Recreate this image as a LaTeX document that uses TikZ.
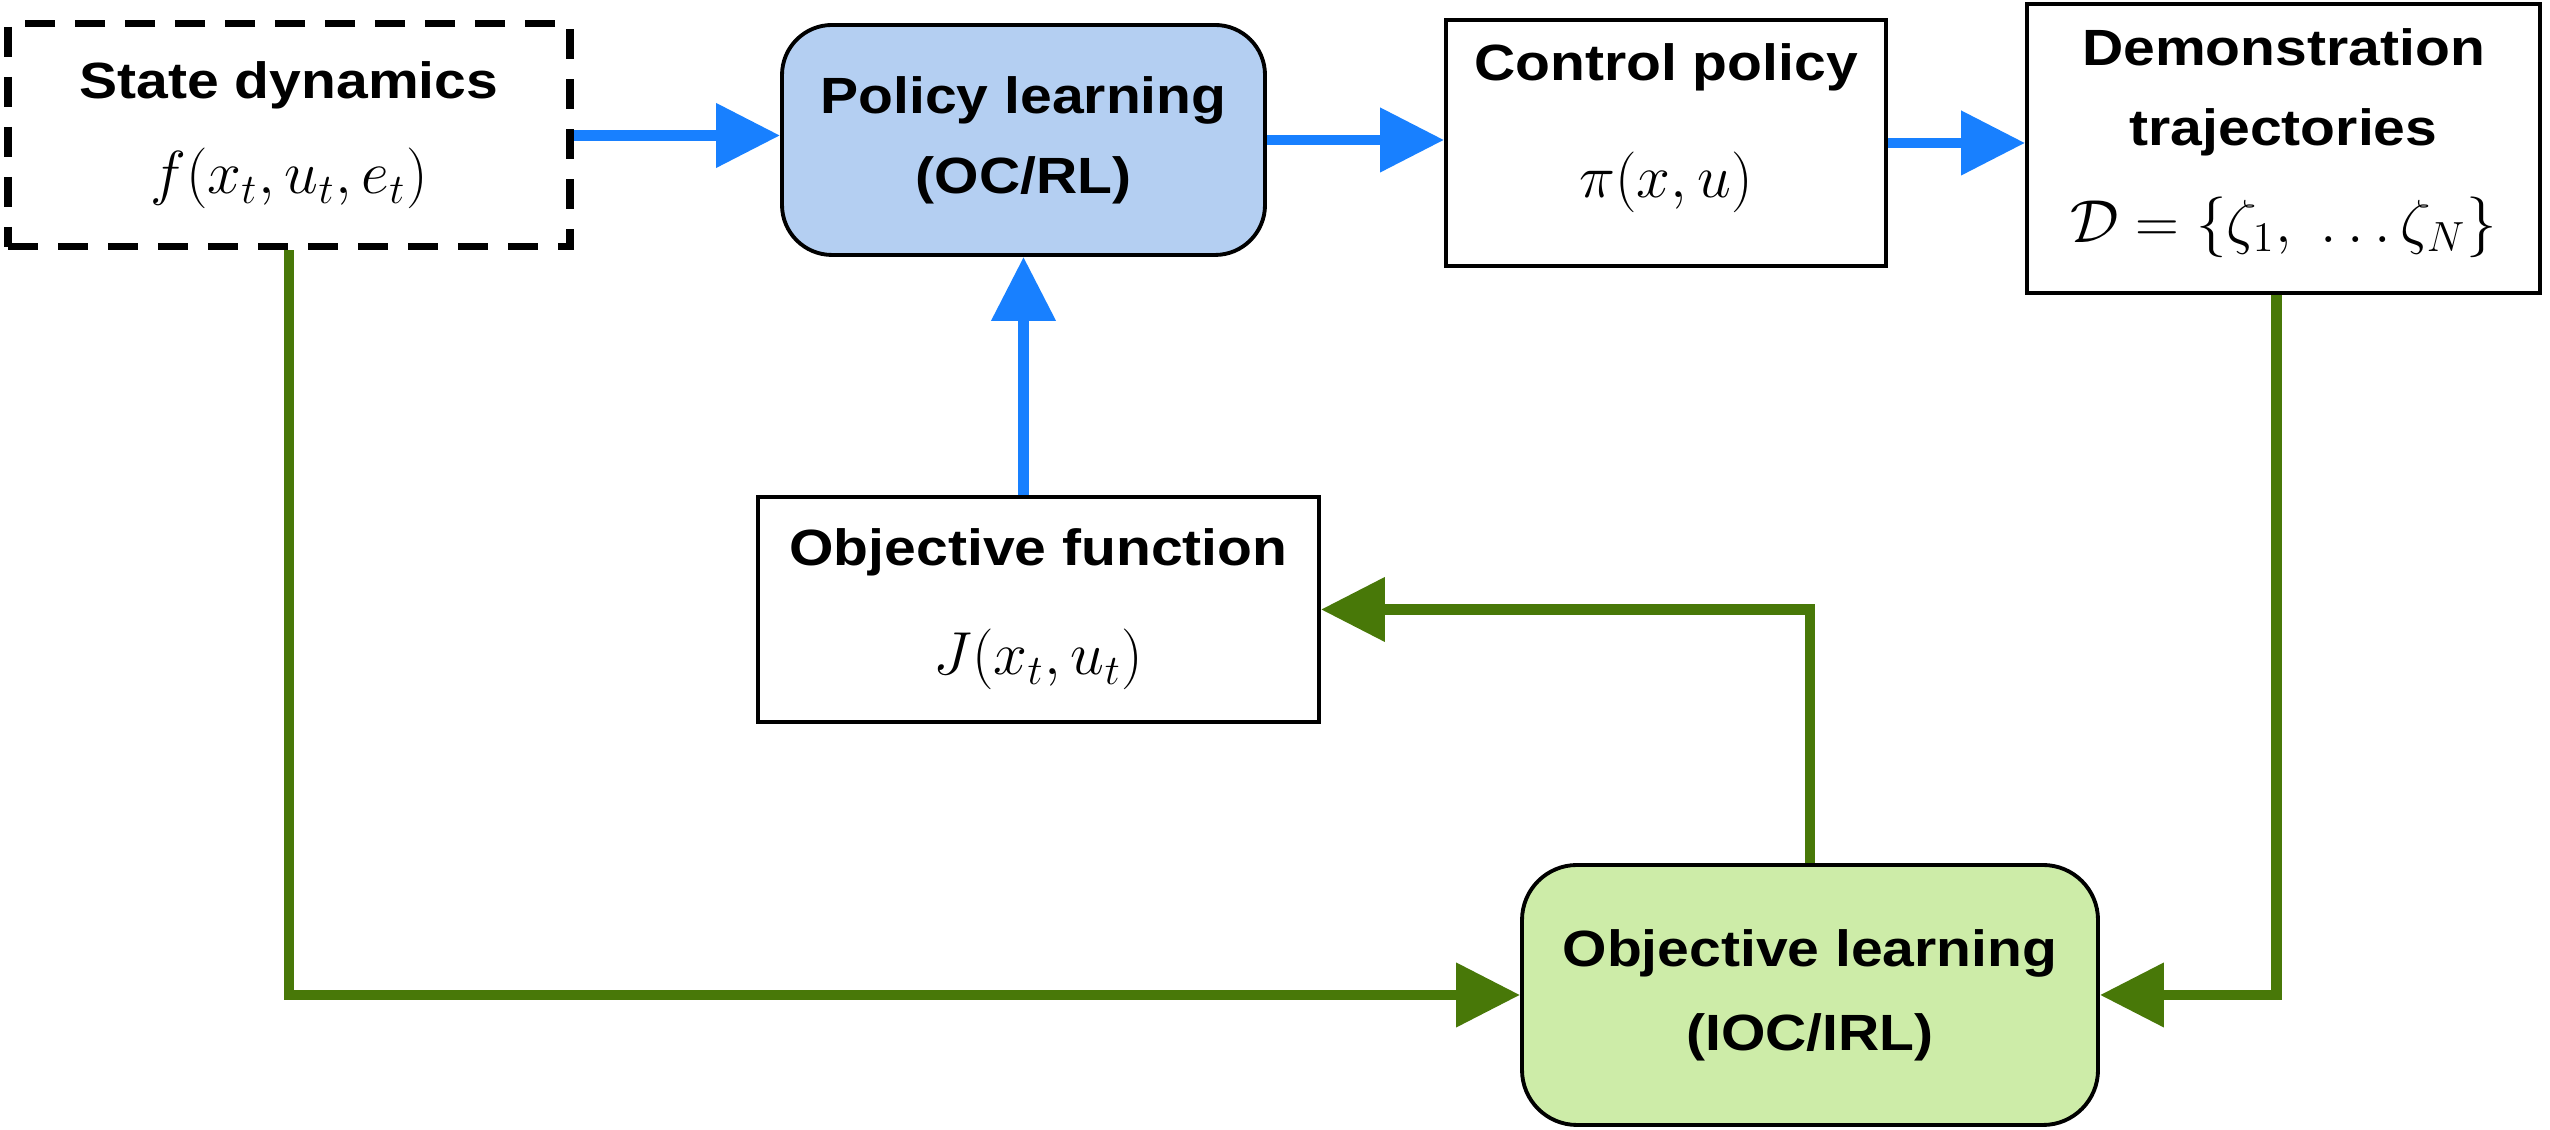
\documentclass[tikz,border=0pt]{standalone}
\usepackage{amsmath,amssymb}
\usepackage{fontspec}
\newfontfamily\boxfont[FakeStretch=1.12]{Liberation Sans}
\usepackage{tikz}
\usetikzlibrary{calc,positioning,arrows.meta}
\usepackage{xcolor}
\definecolor{flowblue}{RGB}{24,128,255}
\definecolor{flowgreen}{RGB}{72,120,8}
\definecolor{policyfill}{RGB}{180,207,242}
\definecolor{learnfill}{RGB}{205,236,168}

\newcommand{\boxmath}[1]{{\fontsize{17.5}{20}\selectfont$#1$}}

\tikzset{
  box/.style={draw, line width=1.1pt, align=center, inner sep=0pt,
    font=\boxfont\bfseries\fontsize{14.5}{22.8}\selectfont},
  flow/.style={line width=3.1pt, -{Triangle[length=0.64cm,width=0.62cm]}}
}

\begin{document}
\begin{tikzpicture}
  \useasboundingbox (0,0) rectangle (25.5,11.3);

  \node[box, line width=2pt, dash pattern=on 0.3cm off 0.2cm,
    minimum width=5.62cm, minimum height=2.23cm] (state) at (2.89,9.945)
    {State dynamics\\[0.15cm]\boxmath{f(x_t, u_t, e_t)}};
  \node[box, fill=policyfill, rounded corners=0.5cm,
    minimum width=4.83cm, minimum height=2.3cm] (policy) at (10.235,9.9)
    {Policy learning\\(OC/RL)};
  \node[box, minimum width=4.4cm, minimum height=2.46cm] (control) at (16.66,9.87)
    {Control policy\\[0.36cm]\boxmath{\pi(x, u)}\rule[-0.45cm]{0pt}{0.45cm}};
  \node[box, minimum width=5.13cm, minimum height=2.89cm] (demo) at (22.835,9.815)
    {Demonstration\\trajectories\\[0.17cm]\boxmath{\mathcal{D}=\{\zeta_1,\ \ldots\zeta_N\}}\rule[-0.26cm]{0pt}{0.26cm}};
  \node[box, minimum width=5.61cm, minimum height=2.25cm] (objfun) at (10.385,5.205)
    {Objective function\\[0.29cm]\boxmath{J(x_t, u_t)}};
  \node[box, fill=learnfill, rounded corners=0.55cm,
    minimum width=5.76cm, minimum height=2.6cm] (objlearn) at (18.1,1.35)
    {Objective learning\\[0.04cm](IOC/IRL)};

  \draw[flow, flowblue] (state.east) -- (state.east -| policy.west);
  \draw[flow, flowblue] (policy.east) -- (policy.east -| control.west);
  \draw[flow, flowblue] (control.east) -- (control.east -| demo.west);
  \draw[flow, flowblue] (objfun.north -| policy.south) -- (policy.south);

  \draw[flow, flowgreen] (state.south) |- (objlearn.west);
  \draw[flow, flowgreen] ([xshift=-0.07cm]demo.south) |- (objlearn.east);
  \draw[flow, flowgreen] (objlearn.north) |- (objfun.east);
\end{tikzpicture}
\end{document}
